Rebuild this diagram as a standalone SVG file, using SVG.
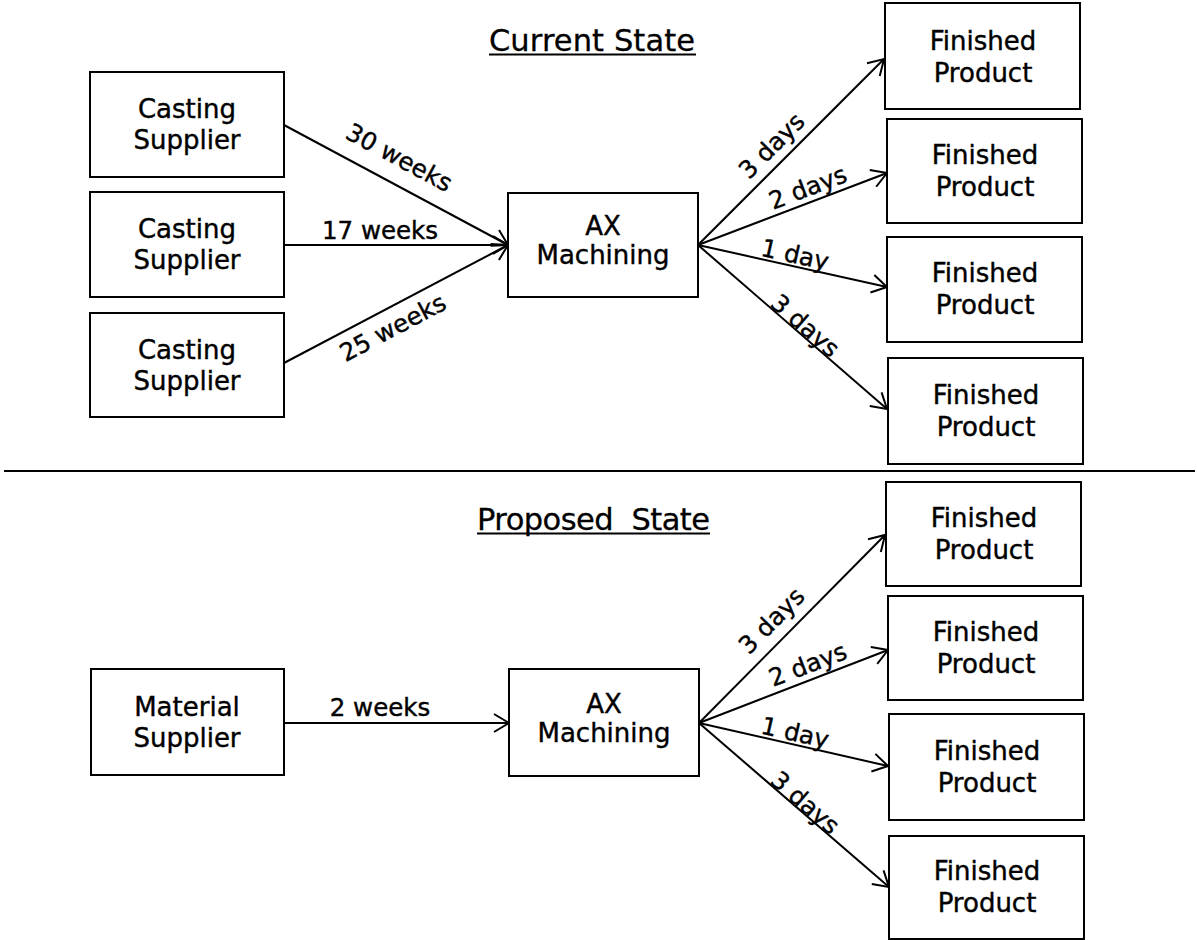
<svg xmlns="http://www.w3.org/2000/svg" width="1197" height="940" viewBox="0 0 1197 940">
  <style>
    .box { fill: #ffffff; stroke: #000000; stroke-width: 2; }
    .txt { font-family: "DejaVu Sans", Verdana, sans-serif; font-size: 26px; fill: #000000; stroke: #000000; stroke-width: 0.4; text-anchor: middle; }
    .lbl { font-family: "DejaVu Sans", Verdana, sans-serif; font-size: 24.5px; fill: #000000; stroke: #000000; stroke-width: 0.4; text-anchor: middle; }
    .title { font-family: "DejaVu Sans", Verdana, sans-serif; font-size: 30.5px; fill: #000000; stroke: #000000; stroke-width: 0.3; }
    .edge { stroke: #000000; stroke-width: 2; fill: none; marker-end: url(#arrow); }
    .rule { stroke: #000000; stroke-width: 2; }
  </style>
  <defs>
    <marker id="arrow" markerUnits="userSpaceOnUse" markerWidth="22" markerHeight="22" refX="17" refY="11" orient="auto">
      <path d="M 2 2 L 17 11 L 2 20" fill="none" stroke="#000000" stroke-width="2"/>
    </marker>
  </defs>
  <rect width="1197" height="940" fill="#ffffff"/>

  <!-- section titles and divider -->
  <g id="title-current">
    <text class="title" x="489" y="51" textLength="206" lengthAdjust="spacing">Current State</text>
    <line class="rule" x1="489" y1="54.5" x2="696" y2="54.5" stroke-width="1.5"/>
  </g>
  <line id="divider" class="rule" x1="4" y1="471" x2="1195" y2="471"/>
  <g id="title-proposed">
    <text class="title" x="477" y="530" xml:space="preserve" textLength="233" lengthAdjust="spacing">Proposed  State</text>
    <line class="rule" x1="477" y1="533.5" x2="710" y2="533.5" stroke-width="1.5"/>
  </g>

  <!-- connectors -->
  <g id="connectors">
    <line class="edge" x1="284" y1="125" x2="508" y2="245"/>
    <line class="edge" x1="284" y1="245" x2="508" y2="245"/>
    <line class="edge" x1="284" y1="363" x2="508" y2="245"/>
    <line class="edge" x1="698" y1="245" x2="884" y2="59"/>
    <line class="edge" x1="698" y1="245" x2="887" y2="173"/>
    <line class="edge" x1="698" y1="245" x2="887" y2="287"/>
    <line class="edge" x1="698" y1="245" x2="887" y2="409"/>

    <line class="edge" x1="284" y1="723" x2="509" y2="723"/>
    <line class="edge" x1="699" y1="723" x2="885" y2="535"/>
    <line class="edge" x1="699" y1="723" x2="888" y2="650"/>
    <line class="edge" x1="699" y1="723" x2="888" y2="766"/>
    <line class="edge" x1="699" y1="723" x2="889" y2="887"/>

    <text class="lbl" transform="translate(399 158) rotate(28.2)" y="8">30 weeks</text>
    <text class="lbl" x="380" y="239">17 weeks</text>
    <text class="lbl" transform="translate(393 328) rotate(-27.8)" y="8">25 weeks</text>
    <text class="lbl" transform="translate(772 146) rotate(-45)" y="8">3 days</text>
    <text class="lbl" transform="translate(808 188) rotate(-20.9)" y="8">2 days</text>
    <text class="lbl" transform="translate(795 255) rotate(12.5)" y="8">1 day</text>
    <text class="lbl" transform="translate(805 326) rotate(40.9)" y="8">3 days</text>

    <text class="lbl" x="380" y="716">2 weeks</text>
    <text class="lbl" transform="translate(772 621) rotate(-45.3)" y="8">3 days</text>
    <text class="lbl" transform="translate(808 665) rotate(-21.1)" y="8">2 days</text>
    <text class="lbl" transform="translate(795 733) rotate(12.8)" y="8">1 day</text>
    <text class="lbl" transform="translate(805 803) rotate(40.8)" y="8">3 days</text>
  </g>

  <!-- current state nodes -->
  <g id="casting-1">
    <rect class="box" x="90" y="72" width="194" height="105"/>
    <text class="txt" x="187" y="118">Casting</text>
    <text class="txt" x="187" y="149">Supplier</text>
  </g>
  <g id="casting-2">
    <rect class="box" x="90" y="192" width="194" height="105"/>
    <text class="txt" x="187" y="238">Casting</text>
    <text class="txt" x="187" y="269">Supplier</text>
  </g>
  <g id="casting-3">
    <rect class="box" x="90" y="313" width="194" height="104"/>
    <text class="txt" x="187" y="359">Casting</text>
    <text class="txt" x="187" y="390">Supplier</text>
  </g>
  <g id="machining-current">
    <rect class="box" x="508" y="193" width="190" height="104"/>
    <text class="txt" x="603" y="235">AX</text>
    <text class="txt" x="603" y="264">Machining</text>
  </g>
  <g id="product-c1">
    <rect class="box" x="885" y="3" width="195" height="106"/>
    <text class="txt" x="983" y="50">Finished</text>
    <text class="txt" x="983" y="82">Product</text>
  </g>
  <g id="product-c2">
    <rect class="box" x="887" y="119" width="195" height="104"/>
    <text class="txt" x="985" y="164">Finished</text>
    <text class="txt" x="985" y="196">Product</text>
  </g>
  <g id="product-c3">
    <rect class="box" x="887" y="237" width="195" height="105"/>
    <text class="txt" x="985" y="282">Finished</text>
    <text class="txt" x="985" y="314">Product</text>
  </g>
  <g id="product-c4">
    <rect class="box" x="888" y="358" width="195" height="106"/>
    <text class="txt" x="986" y="404">Finished</text>
    <text class="txt" x="986" y="436">Product</text>
  </g>

  <!-- proposed state nodes -->
  <g id="material-supplier">
    <rect class="box" x="91" y="669" width="193" height="106"/>
    <text class="txt" x="187" y="716">Material</text>
    <text class="txt" x="187" y="747">Supplier</text>
  </g>
  <g id="machining-proposed">
    <rect class="box" x="509" y="669" width="190" height="107"/>
    <text class="txt" x="604" y="713">AX</text>
    <text class="txt" x="604" y="742">Machining</text>
  </g>
  <g id="product-p1">
    <rect class="box" x="886" y="482" width="195" height="104"/>
    <text class="txt" x="984" y="527">Finished</text>
    <text class="txt" x="984" y="559">Product</text>
  </g>
  <g id="product-p2">
    <rect class="box" x="888" y="596" width="195" height="104"/>
    <text class="txt" x="986" y="641">Finished</text>
    <text class="txt" x="986" y="673">Product</text>
  </g>
  <g id="product-p3">
    <rect class="box" x="889" y="714" width="195" height="106"/>
    <text class="txt" x="987" y="760">Finished</text>
    <text class="txt" x="987" y="792">Product</text>
  </g>
  <g id="product-p4">
    <rect class="box" x="889" y="836" width="195" height="103"/>
    <text class="txt" x="987" y="880">Finished</text>
    <text class="txt" x="987" y="912">Product</text>
  </g>
</svg>
